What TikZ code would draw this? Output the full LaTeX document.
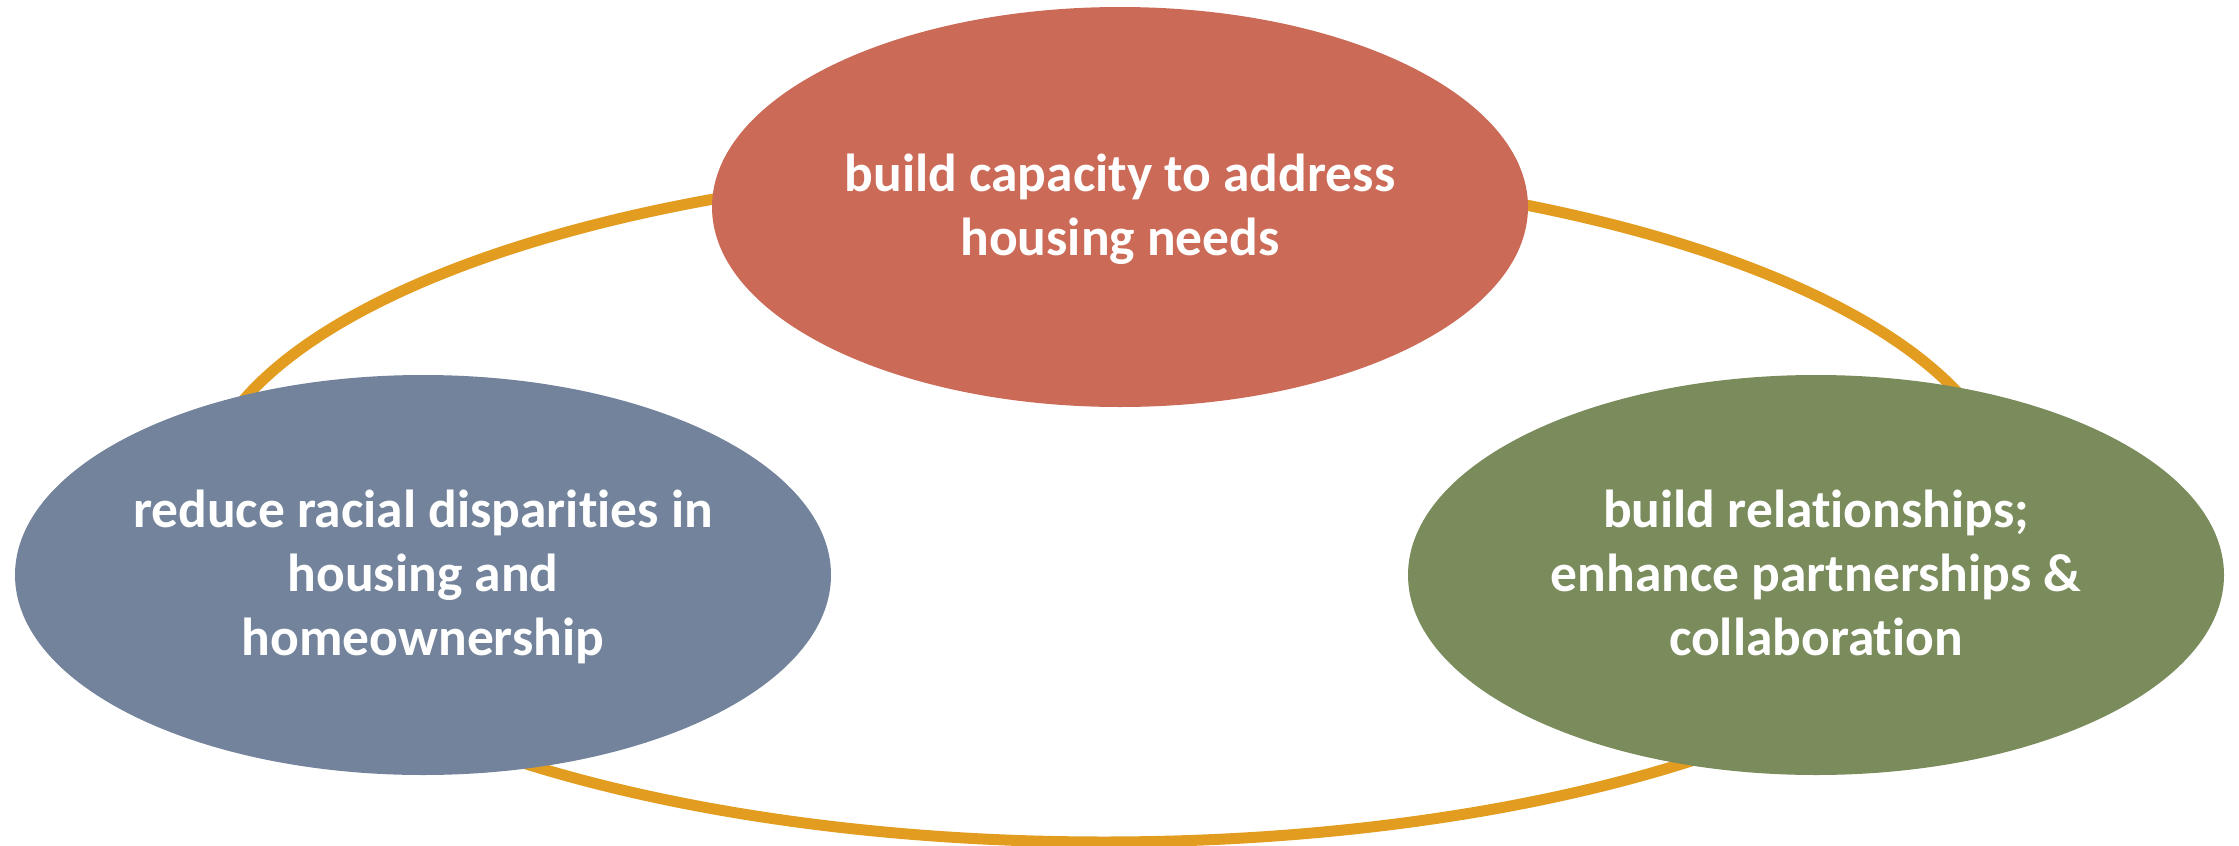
\documentclass[tikz,border=0pt]{standalone}
\usepackage{fontspec}
\setmainfont{Carlito}[RawFeature={-liga}]
\usetikzlibrary{shapes.geometric}

\definecolor{ringorange}{HTML}{E29D20}
\definecolor{capred}{HTML}{CB6B57}
\definecolor{slateblue}{HTML}{73839B}
\definecolor{olivegreen}{HTML}{7A8B5C}

\begin{document}
\begin{tikzpicture}[x=1pt, y=-1pt,
  blob/.style={ellipse, draw=none, inner sep=0pt,
    minimum width=816pt, minimum height=400pt},
  lbl/.style={text=white, align=center, inner sep=0pt,
    font=\bfseries\fontsize{53.5}{64}\selectfont, yshift=-4pt},
  ring/.style={draw=ringorange, line width=11pt}]

  \useasboundingbox (0,0) rectangle (2239,846);

  % the cycle ring running behind the three goals
  \path[ring] (1104,504) ellipse (904 and 338);

  % the three goals
  \node[blob, fill=capred]     (cap) at (1120,207) {};
  \node[blob, fill=slateblue]  (rac) at (423,575)  {};
  \node[blob, fill=olivegreen] (rel) at (1816,575) {};

  \node[lbl] (captext) at (cap) {\strut build capacity to address\\\strut housing needs};
  \node[lbl] (ractext) at (rac) {\strut reduce racial disparities in\\\strut housing and\\\strut homeownership};
  \node[lbl] (reltext) at (rel) {\strut build relationships;\\\strut enhance partnerships \&\\\strut collaboration};
\end{tikzpicture}
\end{document}
